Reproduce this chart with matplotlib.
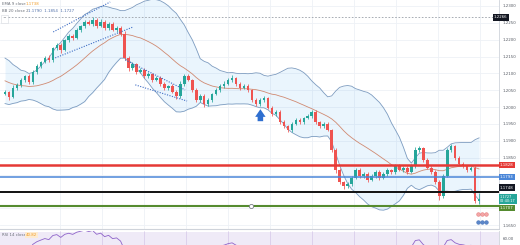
import numpy as np
import pandas as pd
import matplotlib
matplotlib.use("Agg")
import matplotlib.pyplot as plt
import matplotlib.transforms as mtransforms

# EUR/USD 4h candles (closes), bars before the window only feed the bands
prior_close = [1.2150, 1.2135, 1.2140, 1.2120, 1.2125, 1.2105, 1.2110, 1.2090, 1.2095, 1.2075,
               1.2080, 1.2060, 1.2065, 1.2050, 1.2055, 1.2040, 1.2045, 1.2035, 1.2050, 1.2040]

close = [1.2045, 1.2030, 1.2057, 1.2066, 1.2080, 1.2092, 1.2074, 1.2104, 1.2122, 1.2134,
         1.2146, 1.2140, 1.2175, 1.2184, 1.2169, 1.2199, 1.2211, 1.2205, 1.2229, 1.2241,
         1.2253, 1.2247, 1.2259, 1.2241, 1.2253, 1.2235, 1.2247, 1.2229, 1.2235, 1.2217,
         1.2146, 1.2116, 1.2128, 1.2104, 1.2110, 1.2092, 1.2098, 1.2080, 1.2086, 1.2069,
         1.2057, 1.2063, 1.2045, 1.2033, 1.2069, 1.2092, 1.2080, 1.2051, 1.2021, 1.2033,
         1.2009, 1.2021, 1.2039, 1.2051, 1.2063, 1.2069, 1.2080, 1.2086, 1.2069, 1.2057,
         1.2063, 1.2051, 1.2021, 1.2009, 1.2021, 1.2027, 1.1997, 1.1980, 1.1985, 1.1956,
         1.1944, 1.1932, 1.1950, 1.1962, 1.1956, 1.1968, 1.1974, 1.1985, 1.1956, 1.1944,
         1.1950, 1.1932, 1.1873, 1.1813, 1.1778, 1.1766, 1.1772, 1.1790, 1.1813, 1.1796,
         1.1802, 1.1784, 1.1796, 1.1808, 1.1790, 1.1802, 1.1813, 1.1808, 1.1825, 1.1813,
         1.1819, 1.1808, 1.1825, 1.1873, 1.1879, 1.1843, 1.1819, 1.1808, 1.1778, 1.1736,
         1.1796, 1.1873, 1.1885, 1.1849, 1.1831, 1.1825, 1.1813, 1.1819, 1.1722, 1.1727]

# wick lengths in pips
upper_wick = [6, 4, 8, 5, 6, 4, 7, 5, 6, 4, 5, 8, 4, 6, 5, 4, 7, 5, 6, 4,
              5, 6, 7, 5, 8, 4, 6, 7, 5, 6, 8, 5, 6, 4, 7, 5, 6, 4, 5, 6,
              5, 4, 6, 5, 8, 6, 5, 4, 6, 7, 5, 6, 4, 6, 5, 7, 5, 8, 4, 6,
              5, 6, 4, 7, 6, 5, 4, 6, 5, 7, 5, 4, 6, 5, 7, 4, 6, 5, 6, 4,
              5, 6, 4, 6, 5, 4, 6, 5, 7, 5, 6, 4, 5, 6, 4, 5, 6, 4, 7, 5,
              6, 5, 7, 8, 6, 4, 5, 6, 4, 5, 6, 7, 6, 4, 5, 6, 4, 5, 6, 18]
lower_wick = [5, 8, 4, 6, 5, 6, 4, 5, 6, 5, 4, 6, 5, 5, 7, 4, 6, 5, 4, 6,
              5, 4, 6, 5, 4, 6, 5, 4, 6, 5, 6, 8, 5, 6, 4, 5, 6, 5, 4, 6,
              5, 6, 4, 8, 5, 6, 4, 5, 7, 6, 8, 5, 6, 4, 5, 6, 4, 5, 6, 5,
              4, 6, 5, 7, 5, 6, 4, 5, 6, 5, 6, 7, 5, 4, 6, 5, 4, 6, 5, 6,
              5, 4, 6, 8, 7, 10, 6, 5, 4, 6, 5, 6, 4, 5, 6, 4, 5, 6, 5, 4,
              5, 6, 4, 5, 6, 5, 4, 6, 5, 12, 5, 4, 6, 5, 4, 6, 5, 4, 6, 10]

# horizontal levels drawn on the chart
levels = [1.1828, 1.1793, 1.1748, 1.1707]
level_colors = ['#e53935', '#4a86d8', '#111111', '#558b2f']
level_widths = [1.8, 1.1, 1.4, 1.5]
peak_level = 1.2266
last_price = 1.1727

# dotted trend lines: (bar, price) pairs
trend_lines = [((12.1, 1.2223), (26.4, 1.2312)),
               ((12.6, 1.2146), (32.2, 1.2238)),
               ((30.2, 1.2140), (45.2, 1.2051)),
               ((32.7, 1.2066), (45.7, 1.2018))]

arrow_bar = 64.1
arrow_tip, arrow_base = 1.2002, 1.1950

price_ticks = np.arange(1.1650, 1.23001, 0.0050)
hidden_ticks = [1.1800, 1.1750, 1.1700]  # covered by the level tags

# ---- indicators ----
allc = pd.Series(prior_close + close)
basis = allc.rolling(20).mean()
dev = allc.rolling(20).std(ddof=0)
n = len(close)
basis = basis.values[-n:]
bb_up = basis + 2 * dev.values[-n:]
bb_lo = basis - 2 * dev.values[-n:]

delta = allc.diff()
gain = delta.clip(lower=0).ewm(alpha=1 / 14, adjust=False).mean()
loss = (-delta.clip(upper=0)).ewm(alpha=1 / 14, adjust=False).mean()
rsi = (100 - 100 / (1 + gain / loss)).values[-n:]

c = np.array(close)
o = np.array([prior_close[-1]] + close[:-1])
hi = np.maximum(o, c) + np.array(upper_wick) * 1e-4
lo = np.minimum(o, c) - np.array(lower_wick) * 1e-4
x = np.arange(n)
up = c >= o
col = np.where(up, '#26a69a', '#ef5350')

# ---- figure ----
W, H = 520, 245
fig = plt.figure(figsize=(5.2, 2.45), dpi=100)
ax = fig.add_axes([0, (H - 229) / H, 499 / W, 229 / H])
ax2 = fig.add_axes([0, 0, 499 / W, 14 / H])

ax.set_xlim(-1.26, 124.0)
ax.set_ylim(1.23178 - 229 * 0.0002967, 1.23178)

grid_c = '#eef1f6'
for t in price_ticks:
    ax.axhline(t, color=grid_c, lw=0.6, zorder=0)
for gx in np.arange(13.8, 124, 10.55):
    ax.axvline(gx, color=grid_c, lw=0.6, zorder=0)
    ax2.axvline(gx, color='#e6def0', lw=0.6, zorder=0)

# bollinger bands
ax.fill_between(x, bb_lo, bb_up, color='#2196f3', alpha=0.09, lw=0, zorder=1)
ax.plot(x, bb_up, color='#7d9cc0', lw=0.6, zorder=2)
ax.plot(x, bb_lo, color='#7d9cc0', lw=0.6, zorder=2)
ax.plot(x, basis, color='#d08a72', lw=0.6, zorder=2)

# candles
ax.vlines(x, lo, hi, colors=col, lw=0.55, zorder=3)
ax.bar(x, np.maximum(np.abs(c - o), 0.00006), bottom=np.minimum(o, c), width=0.65,
       color=col, lw=0, zorder=4)

# trend lines
for (x0, y0), (x1, y1) in trend_lines:
    ax.plot([x0, x1], [y0, y1], color='#3d6cc4', lw=0.8, ls=(0, (1, 1.3)), zorder=5)

# arrow
ax.annotate('', xy=(arrow_bar, arrow_tip), xytext=(arrow_bar, arrow_base),
            arrowprops=dict(arrowstyle='simple,head_width=0.75,head_length=0.55,tail_width=0.4',
                            color='#2f6fd0', lw=0), zorder=6)

# levels
ax.axhline(peak_level, xmin=8 / 499, color='#9aa0a8', lw=0.6, ls=(0, (2, 2)), zorder=5)
for lv, lc, lw in zip(levels, level_colors, level_widths):
    ax.axhline(lv, color=lc, lw=lw, zorder=6)
ax.scatter([61.7], [levels[3]], s=9, facecolor='white', edgecolor='#7a7f87', lw=0.6, zorder=7)

# event icons near the axis
icon_x = np.array([478, 482, 486]) / 499
ax.scatter(icon_x, [1 - 214 / 229] * 3, s=7, color='#f3a6a6', edgecolor='#e06767', lw=0.3,
           transform=ax.transAxes, zorder=7, clip_on=False)
ax.scatter(icon_x, [1 - 222 / 229] * 3, s=7, color='#5b86c9', edgecolor='#2f5fae', lw=0.3,
           transform=ax.transAxes, zorder=7, clip_on=False)

# price axis
ax.yaxis.tick_right()
ax.set_yticks(price_ticks)
ax.set_yticklabels(['' if any(abs(t - h) < 1e-6 for h in hidden_ticks) else f'{t:.4f}'
                    for t in price_ticks])
ax.tick_params(axis='y', length=0, pad=2.5, labelsize=2.9, labelcolor='#555a63')
ax.set_xticks([])
for s in ['top', 'left']:
    ax.spines[s].set_visible(False)
ax.spines['right'].set_color('#cfd3da')
ax.spines['right'].set_linewidth(0.6)
ax.spines['bottom'].set_color('#cfd3da')
ax.spines['bottom'].set_linewidth(0.8)

tr = mtransforms.blended_transform_factory(ax.transAxes, ax.transData)


def tag(price, text, face, xa=1.002, size=2.8):
    ax.text(xa, price, text, transform=tr, ha='left', va='center', fontsize=size,
            color='white', clip_on=False, zorder=10, linespacing=1.0,
            bbox=dict(boxstyle='square,pad=0.3', fc=face, ec='none'))


tag(peak_level, '1.2266', '#131722', xa=0.99)
tag(levels[0], '1.1828', level_colors[0])
tag(levels[1], '1.1793', level_colors[1])
tag(1.1761, '1.1748', '#131722')
tag(1.1728, '1.1727\n02:40:17', '#26a69a', size=2.5)
tag(1.1700, '1.1707', level_colors[3])

# legends
ax.text(2 / 499, 1 - 4 / 229, 'EMA 9 close', transform=ax.transAxes, fontsize=2.8,
        color='#6a6f78', va='center')
ax.text(26 / 499, 1 - 4 / 229, '1.1738', transform=ax.transAxes, fontsize=2.8,
        color='#f19a22', va='center')
ax.text(2 / 499, 1 - 11 / 229, 'BB 20 close 2', transform=ax.transAxes, fontsize=2.8,
        color='#6a6f78', va='center')
ax.text(28 / 499, 1 - 11 / 229, '1.1790  1.1854  1.1727', transform=ax.transAxes,
        fontsize=2.8, color='#4f6fa8', va='center')
ax.text(3 / 499, 1 - 19 / 229, '^', transform=ax.transAxes, fontsize=3.2,
        color='#444a55', va='center',
        bbox=dict(boxstyle='square,pad=0.4', fc='white', ec='#d5d8de', lw=0.4))

# RSI panel
ax2.set_xlim(-1.26, 124.0)
ax2.set_ylim(48, 72)
ax2.axhspan(30, 70, color='#7e57c2', alpha=0.12, lw=0, zorder=0)
ax2.plot(x, rsi, color='#8e63c9', lw=0.6, zorder=2)
ax2.set_xticks([])
ax2.yaxis.tick_right()
ax2.set_yticks([60])
ax2.set_yticklabels(['60.00'])
ax2.tick_params(axis='y', length=0, pad=2.5, labelsize=2.9, labelcolor='#555a63')
for s in ['top', 'left', 'bottom']:
    ax2.spines[s].set_visible(False)
ax2.spines['right'].set_color('#cfd3da')
ax2.spines['right'].set_linewidth(0.6)
ax2.text(2 / 499, 0.7, 'RSI 14 close', transform=ax2.transAxes, fontsize=2.8,
         color='#6a6f78', va='center')
ax2.text(26 / 499, 0.7, '40.82', transform=ax2.transAxes, fontsize=2.8,
         color='#f19a22', va='center',
         bbox=dict(boxstyle='square,pad=0.2', fc='#fdebd0', ec='none'))

fig.savefig('out.png', dpi=100)
